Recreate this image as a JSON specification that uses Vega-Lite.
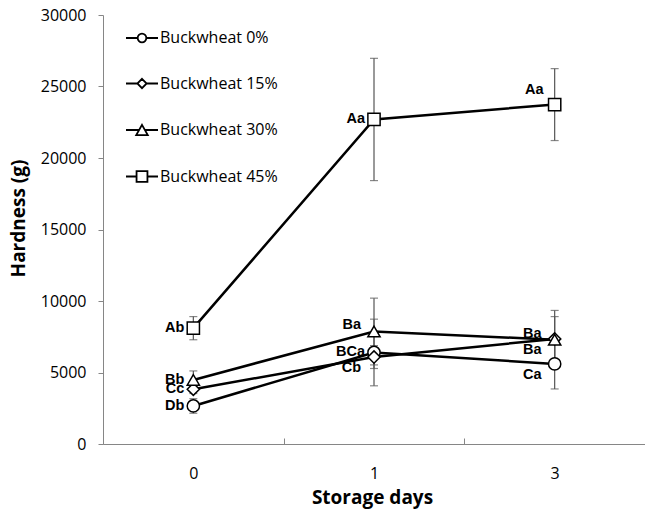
{
  "$schema": "https://vega.github.io/schema/vega-lite/v6.json",
  "width": 542,
  "height": 429,
  "autosize": {"type": "none"},
  "padding": {"left": 103, "top": 15, "right": 0, "bottom": 68},
  "background": "white",
  "config": {"view": {"stroke": null}, "font": "Open Sans"},
  "data": {
    "values": [
      {"day": "0", "group": "Buckwheat 0%", "hardness": 2660, "lo": 2150, "hi": 3170, "letter": "Db"},
      {"day": "1", "group": "Buckwheat 0%", "hardness": 6400, "lo": 4070, "hi": 8730, "letter": "BCa"},
      {"day": "3", "group": "Buckwheat 0%", "hardness": 5600, "lo": 3850, "hi": 7350, "letter": "Ca"},
      {"day": "0", "group": "Buckwheat 15%", "hardness": 3830, "lo": 3530, "hi": 4130, "letter": "Cc"},
      {"day": "1", "group": "Buckwheat 15%", "hardness": 6080, "lo": 5280, "hi": 6880, "letter": "Cb"},
      {"day": "3", "group": "Buckwheat 15%", "hardness": 7350, "lo": 5790, "hi": 8910, "letter": "Ba"},
      {"day": "0", "group": "Buckwheat 30%", "hardness": 4480, "lo": 3850, "hi": 5110, "letter": "Bb"},
      {"day": "1", "group": "Buckwheat 30%", "hardness": 7870, "lo": 5530, "hi": 10200, "letter": "Ba"},
      {"day": "3", "group": "Buckwheat 30%", "hardness": 7290, "lo": 5240, "hi": 9340, "letter": "Ba"},
      {"day": "0", "group": "Buckwheat 45%", "hardness": 8100, "lo": 7290, "hi": 8910, "letter": "Ab"},
      {"day": "1", "group": "Buckwheat 45%", "hardness": 22700, "lo": 18420, "hi": 26970, "letter": "Aa"},
      {"day": "3", "group": "Buckwheat 45%", "hardness": 23740, "lo": 21220, "hi": 26250, "letter": "Aa"}
    ]
  },
  "resolve": {"scale": {"shape": "independent"}, "legend": {"shape": "independent"}},
  "encoding": {
    "x": {
      "field": "day",
      "type": "ordinal",
      "sort": ["0", "1", "3"],
      "scale": {"type": "band", "paddingInner": 0, "paddingOuter": 0},
      "axis": {
        "title": "Storage days",
        "tickBand": "extent",
        "labelAngle": 0,
        "domainColor": "#868686",
        "tickColor": "#868686",
        "tickSize": -6,
        "labelFont": "Open Sans",
        "labelFontSize": 16,
        "labelColor": "black",
        "labelPadding": 27,
        "titleFont": "Open Sans",
        "titleFontSize": 19,
        "titleFontWeight": "bold",
        "titleColor": "black",
        "titleX": 269,
        "titleY": 53,
        "titleBaseline": "middle"
      }
    }
  },
  "layer": [
    {
      "mark": {"type": "rule", "color": "#555555", "strokeWidth": 1.2},
      "encoding": {
        "y": {
          "field": "lo",
          "type": "quantitative",
          "scale": {"domain": [0, 30000]},
          "axis": {
            "values": [0, 5000, 10000, 15000, 20000, 25000, 30000],
            "format": "d",
            "grid": false,
            "title": "Hardness (g)",
            "domainColor": "#868686",
            "tickColor": "#868686",
            "tickSize": 5,
            "labelFont": "Open Sans",
            "labelFontSize": 16,
            "labelColor": "black",
            "labelPadding": 12,
            "titleFont": "Open Sans",
            "titleFontSize": 19,
            "titleFontWeight": "bold",
            "titleColor": "black",
            "titleX": -85,
            "titleY": 203,
            "titleBaseline": "middle"
          }
        },
        "y2": {"field": "hi"}
      }
    },
    {
      "mark": {"type": "tick", "color": "#555555", "size": 8, "thickness": 1.2},
      "encoding": {"y": {"field": "lo", "type": "quantitative"}}
    },
    {
      "mark": {"type": "tick", "color": "#555555", "size": 8, "thickness": 1.2},
      "encoding": {"y": {"field": "hi", "type": "quantitative"}}
    },
    {
      "mark": {"type": "line", "color": "black", "strokeWidth": 2.5},
      "encoding": {
        "y": {"field": "hardness", "type": "quantitative"},
        "detail": {"field": "group"}
      }
    },
    {
      "mark": {"type": "point", "filled": false, "fill": "white", "stroke": "black", "strokeWidth": 1.5, "size": 150, "opacity": 1},
      "encoding": {
        "y": {"field": "hardness", "type": "quantitative"},
        "shape": {
          "field": "group",
          "type": "nominal",
          "scale": {
            "domain": ["Buckwheat 0%", "Buckwheat 15%", "Buckwheat 30%", "Buckwheat 45%"],
            "range": ["circle", "diamond", "triangle-up", "square"]
          },
          "legend": null
        }
      }
    },
    {
      "transform": [{"filter": "false"}],
      "mark": {"type": "point", "filled": false, "fill": "white", "stroke": "black", "strokeWidth": 1.8, "size": 1024, "opacity": 1},
      "encoding": {
        "y": {"field": "hardness", "type": "quantitative"},
        "shape": {
          "field": "group",
          "type": "nominal",
          "scale": {
            "domain": ["Buckwheat 0%", "Buckwheat 15%", "Buckwheat 30%", "Buckwheat 45%"],
            "range": [
              "M-1,0H-0.27M0.27,0H1M0.27,0A0.27,0.27,0,1,1,-0.27,0A0.27,0.27,0,1,1,0.27,0Z",
              "M-1,0H-0.29M0.29,0H1M0,-0.29L0.29,0L0,0.29L-0.29,0Z",
              "M-1,0H-0.2M0.2,0H1M0,-0.32L0.36,0.32L-0.36,0.32Z",
              "M-1,0H-0.34M0.34,0H1M-0.34,-0.34H0.34V0.34H-0.34Z"
            ]
          },
          "legend": {
            "title": null,
            "orient": "none",
            "legendX": 22,
            "legendY": 6,
            "padding": 0,
            "symbolSize": 1024,
            "symbolStrokeWidth": 1.8,
            "rowPadding": 20.5,
            "labelOffset": 1,
            "labelFont": "Open Sans",
            "labelFontSize": 16,
            "labelColor": "black"
          }
        }
      }
    },
    {
      "transform": [{"filter": "datum.day === '0' || (datum.day === '1' && (datum.group === 'Buckwheat 45%' || datum.group === 'Buckwheat 0%'))"}],
      "mark": {"type": "text", "align": "right", "baseline": "middle", "dx": -9, "font": "Liberation Sans", "fontWeight": "bold", "fontSize": 14.5, "color": "black"},
      "encoding": {"y": {"field": "hardness", "type": "quantitative"}, "text": {"field": "letter"}}
    },
    {
      "transform": [{"filter": "datum.group === 'Buckwheat 30%' && datum.day !== '0'"}],
      "mark": {"type": "text", "align": "right", "baseline": "middle", "dx": -13, "dy": -6, "font": "Liberation Sans", "fontWeight": "bold", "fontSize": 14.5, "color": "black"},
      "encoding": {"y": {"field": "hardness", "type": "quantitative"}, "text": {"field": "letter"}}
    },
    {
      "transform": [{"filter": "datum.group === 'Buckwheat 45%' && datum.day === '3'"}],
      "mark": {"type": "text", "align": "right", "baseline": "middle", "dx": -11, "dy": -15, "font": "Liberation Sans", "fontWeight": "bold", "fontSize": 14.5, "color": "black"},
      "encoding": {"y": {"field": "hardness", "type": "quantitative"}, "text": {"field": "letter"}}
    },
    {
      "transform": [{"filter": "(datum.group === 'Buckwheat 15%' && datum.day !== '0') || (datum.group === 'Buckwheat 0%' && datum.day === '3')"}],
      "mark": {"type": "text", "align": "right", "baseline": "middle", "dx": -13, "dy": 11, "font": "Liberation Sans", "fontWeight": "bold", "fontSize": 14.5, "color": "black"},
      "encoding": {"y": {"field": "hardness", "type": "quantitative"}, "text": {"field": "letter"}}
    }
  ]
}
